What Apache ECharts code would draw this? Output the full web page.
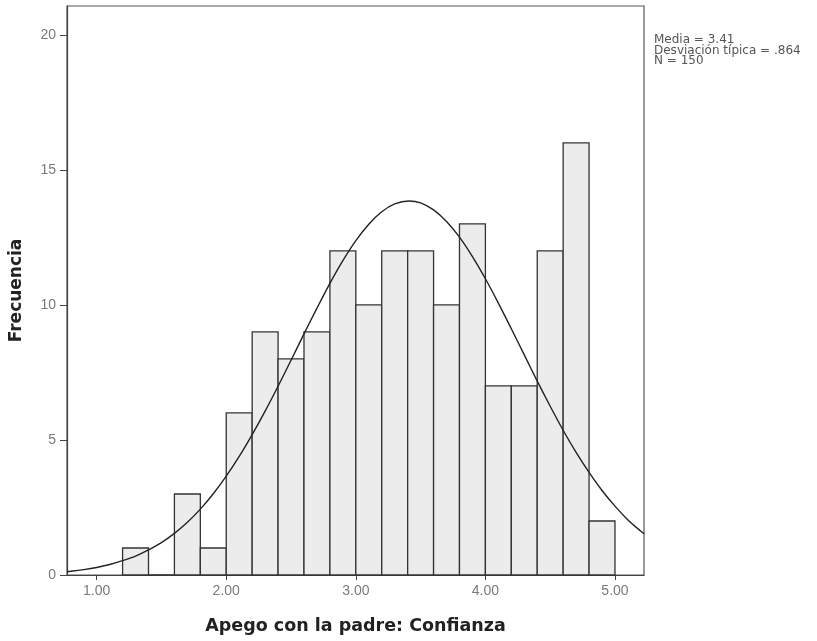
<!DOCTYPE html>
<html>
<head>
<meta charset="utf-8">
<script src="https://cdn.jsdelivr.net/npm/echarts@6/dist/echarts.min.js"></script>
<style>
html,body{margin:0;padding:0;background:#fff;}
#chart{width:817px;height:641px;}
</style>
</head>
<body>
<div id="chart"></div>
<script>
// Histogram bins (start of each 0.2-wide bin) and frequencies
var binStarts = [1.2, 1.4, 1.6, 1.8, 2.0, 2.2, 2.4, 2.6, 2.8, 3.0, 3.2, 3.4, 3.6, 3.8, 4.0, 4.2, 4.4, 4.6, 4.8];
var counts    = [1,   0,   3,   1,   6,   9,   8,   9,   12,  10,  12,  12,  10,  13,  7,   7,   12,  16,  2];
var binWidth = 0.2;

// Normal curve
var curveX = [0.771, 0.8, 0.9, 1.0, 1.1, 1.2, 1.3, 1.4, 1.5, 1.6, 1.7, 1.8, 1.9, 2.0, 2.1, 2.2, 2.3, 2.4, 2.5, 2.6, 2.7, 2.8, 2.9, 3.0, 3.1, 3.2, 3.3, 3.41, 3.5, 3.6, 3.7, 3.8, 3.9, 4.0, 4.1, 4.2, 4.3, 4.4, 4.5, 4.6, 4.7, 4.8, 4.9, 5.0, 5.1, 5.2, 5.224];
var curveY = [0.13, 0.14, 0.20, 0.28, 0.39, 0.53, 0.70, 0.93, 1.20, 1.54, 1.95, 2.44, 3.01, 3.66, 4.39, 5.20, 6.07, 6.99, 7.95, 8.93, 9.88, 10.80, 11.64, 12.38, 12.99, 13.45, 13.74, 13.85, 13.78, 13.52, 13.09, 12.51, 11.79, 10.97, 10.07, 9.12, 8.15, 7.18, 6.25, 5.36, 4.54, 3.80, 3.13, 2.55, 2.04, 1.62, 1.53];

var xTicks = [1, 2, 3, 4, 5];
var yTicks = [0, 5, 10, 15, 20];
var statsLines = ['Media = 3.41', 'Desviación típica = .864', 'N = 150'];

var histData = binStarts.map(function (s, i) { return [s, s + binWidth, counts[i]]; });
var curveData = curveX.map(function (x, i) { return [x, curveY[i]]; });

var chart = echarts.init(document.getElementById('chart'), null, {renderer: 'canvas'});
var tickFont = {fontFamily: 'Liberation Sans', fontSize: 14, color: '#7a7a7a'};
chart.setOption({
  animation: false,
  backgroundColor: '#ffffff',
  grid: {left: 67, right: 173, top: 6, bottom: 66, show: true, borderColor: '#555', borderWidth: 1.2, backgroundColor: 'transparent'},
  xAxis: {
    type: 'value', min: 0.771, max: 5.224,
    name: 'Apego con la padre: Confianza', nameLocation: 'middle', nameGap: 42,
    nameTextStyle: {fontFamily: 'DejaVu Sans', fontWeight: 'bold', fontSize: 17.5, color: '#222'},
    axisLine: {show: true, lineStyle: {color: '#444', width: 1.2}},
    axisTick: {show: true, length: 5, customValues: xTicks, lineStyle: {color: '#444'}},
    axisLabel: Object.assign({customValues: xTicks, margin: 9, formatter: function (v) { return v.toFixed(2); }}, tickFont),
    splitLine: {show: false}
  },
  yAxis: {
    type: 'value', min: 0, max: 21.07,
    name: 'Frecuencia', nameLocation: 'middle', nameGap: 42,
    nameTextStyle: {fontFamily: 'DejaVu Sans', fontWeight: 'bold', fontSize: 17, color: '#222'},
    axisLine: {show: true, lineStyle: {color: '#444', width: 1.2}},
    axisTick: {show: true, length: 7, customValues: yTicks, lineStyle: {color: '#444'}},
    axisLabel: Object.assign({customValues: yTicks, margin: 11}, tickFont),
    splitLine: {show: false}
  },
  graphic: [{
    type: 'text', left: 654, top: 34,
    style: {text: statsLines.join('\n'), font: '12px "DejaVu Sans"', lineHeight: 10.5, fill: '#555'}
  }],
  series: [{
    type: 'custom',
    data: histData,
    encode: {x: [0, 1], y: 2},
    renderItem: function (params, api) {
      var p0 = api.coord([api.value(0), api.value(2)]);
      var p1 = api.coord([api.value(1), 0]);
      return {
        type: 'rect',
        shape: {x: p0[0], y: p0[1], width: p1[0] - p0[0], height: p1[1] - p0[1]},
        style: {fill: '#ececec', stroke: '#333', lineWidth: 1.3}
      };
    },
    z: 2
  }, {
    type: 'line',
    data: curveData,
    smooth: 0.3,
    showSymbol: false,
    lineStyle: {color: '#222', width: 1.4},
    z: 3
  }]
});
</script>
</body>
</html>
